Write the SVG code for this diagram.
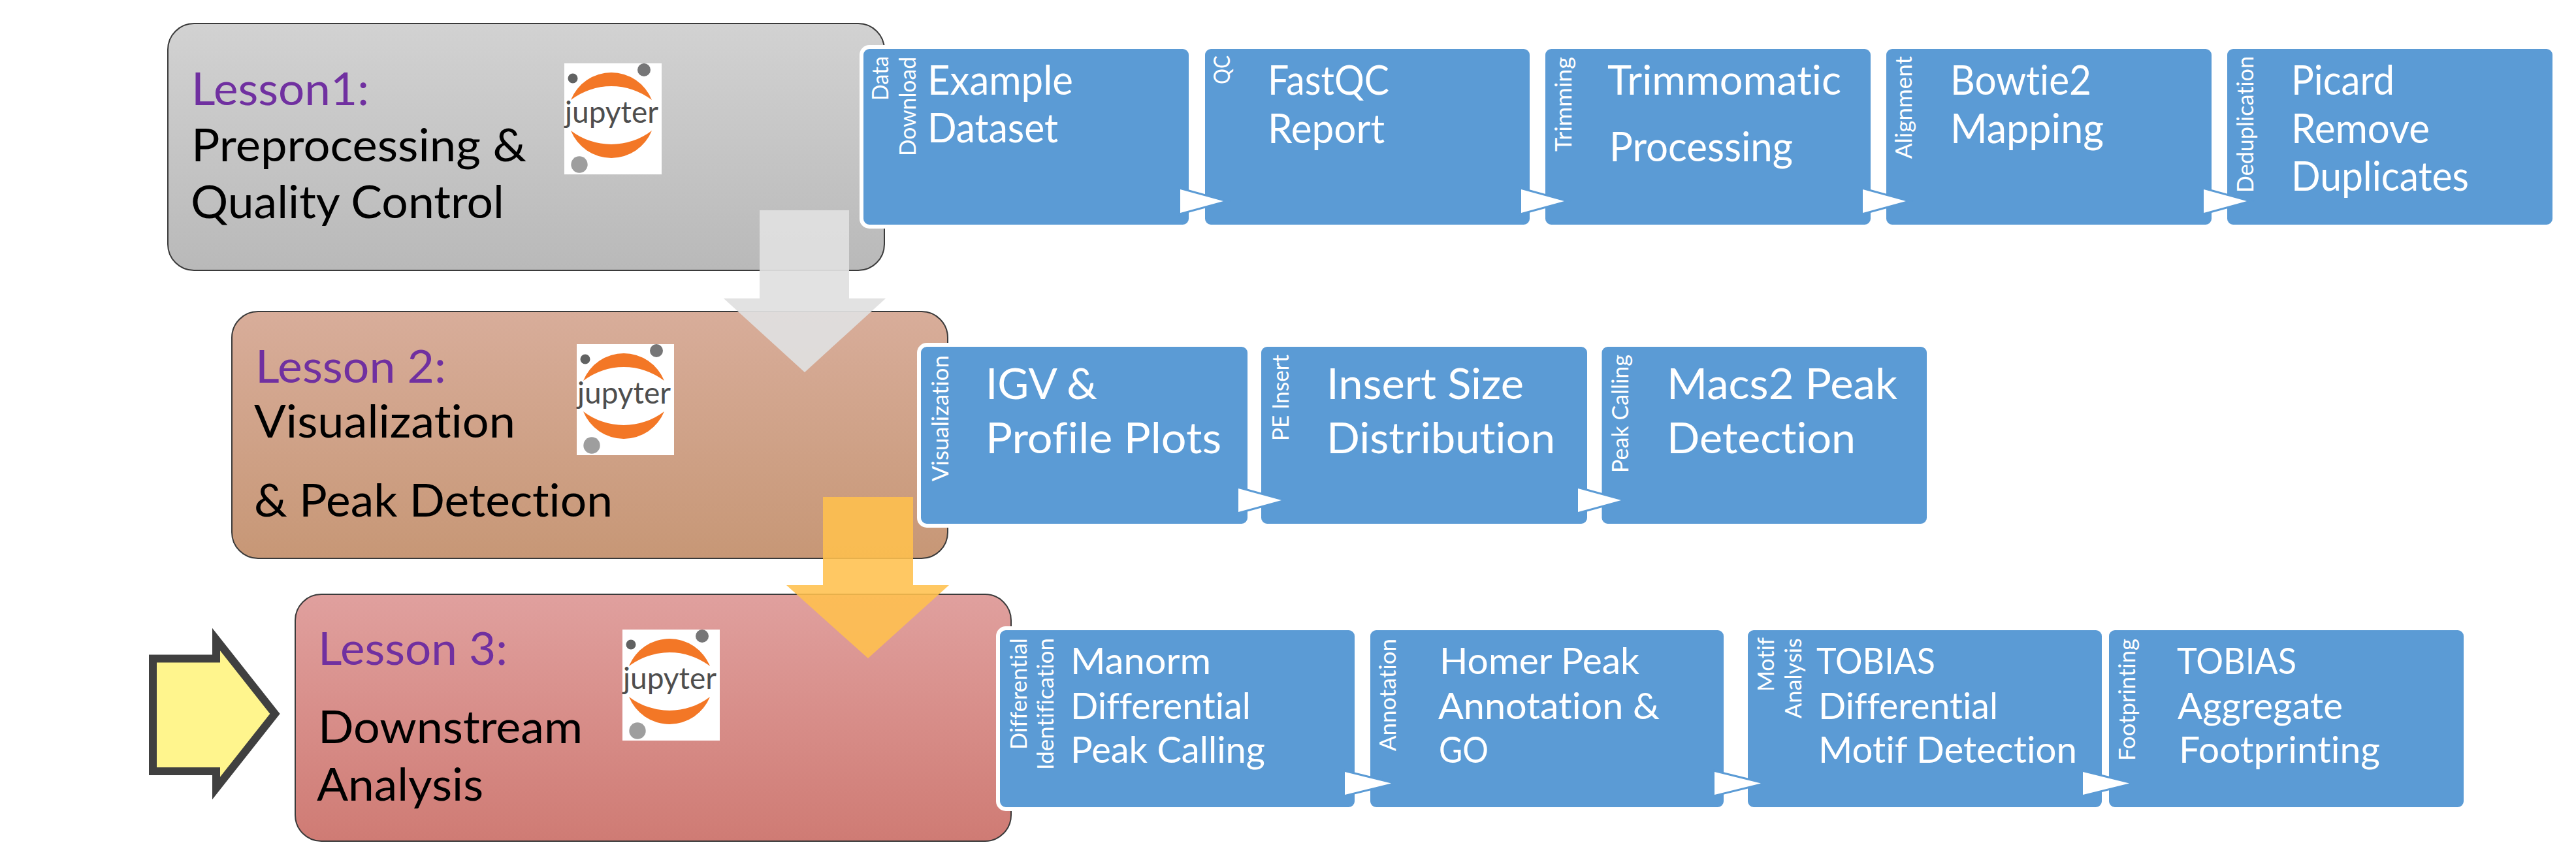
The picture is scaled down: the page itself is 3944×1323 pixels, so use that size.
<svg xmlns="http://www.w3.org/2000/svg" width="3944" height="1323" viewBox="0 0 3944 1323">
<defs>
<linearGradient id="g1" x1="0" y1="0" x2="0" y2="1"><stop offset="0" stop-color="#d2d2d2"/><stop offset="1" stop-color="#b9b9b9"/></linearGradient>
<linearGradient id="g2" x1="0" y1="0" x2="0" y2="1"><stop offset="0" stop-color="#d8ad9a"/><stop offset="1" stop-color="#c79776"/></linearGradient>
<linearGradient id="g3" x1="0" y1="0" x2="0" y2="1"><stop offset="0" stop-color="#e0a09e"/><stop offset="1" stop-color="#cf7b74"/></linearGradient>
<g id="logo">
<rect x="0" y="0" width="149" height="170" fill="#fff"/>
<circle cx="122" cy="10" r="10" fill="#767677"/>
<circle cx="13" cy="23" r="7.500" fill="#616262"/>
<circle cx="23" cy="155" r="12.700" fill="#9e9e9e"/>
<path d="M10 56A66.800 66.800 0 0 1 134 56A102 102 0 0 0 10 56Z" fill="#f37726"/>
<path d="M10 103A102 102 0 0 0 134 103A66.800 66.800 0 0 1 10 103Z" fill="#f37726"/>
<text x="1" y="91" class="jup" textLength="143" lengthAdjust="spacingAndGlyphs">jupyter</text>
</g>
<path id="tri" d="M0 0L66 18L0 36Z"/>
<path id="tri3" d="M0 0L71 17.500L0 35Z"/>
</defs>
<style>
text{font-family:"Lato","Open Sans","Liberation Sans",sans-serif;font-variant-ligatures:none}
.jup{font-size:47px;fill:#4e4e4e}
.les{font-size:70px;fill:#7030a0;transform:translateX(-3px)}
.sub{font-size:70px;fill:#000;transform:translateX(-3px)}
.lessonbox{stroke:#3a3a3a;stroke-width:2}
.blue{fill:#5b9bd5;stroke:#fff;stroke-width:6}
.t{fill:#fff;font-size:61px;transform:translateX(-4px)}
.t2{fill:#fff;font-size:66px;transform:translateX(-4px)}
.t3{fill:#fff;font-size:57px;transform:translateX(-4px)}
.s{fill:#fff;font-size:34px}
.tri{fill:#fff;stroke:#5b9bd5;stroke-width:6;paint-order:stroke}
</style>
<rect width="3944" height="1323" fill="#fff"/>

<g id="lesson1">
<rect class="lessonbox" x="257" y="36" width="1097" height="378" rx="40" fill="url(#g1)"/>
<text class="les" x="296" y="161" textLength="272" lengthAdjust="spacingAndGlyphs">Lesson1:</text>
<text class="sub" x="296" y="247" textLength="513" lengthAdjust="spacingAndGlyphs">Preprocessing &amp;</text>
<text class="sub" x="295" y="334" textLength="480" lengthAdjust="spacingAndGlyphs">Quality Control</text>
<use href="#logo" x="864" y="97"/>
</g>
<g id="lesson2">
<rect class="lessonbox" x="355" y="477" width="1096" height="378" rx="40" fill="url(#g2)"/>
<text class="les" x="394" y="586" textLength="292" lengthAdjust="spacingAndGlyphs">Lesson 2:</text>
<text class="sub" x="392" y="670" textLength="400" lengthAdjust="spacingAndGlyphs">Visualization</text>
<text class="sub" x="392" y="791" textLength="549" lengthAdjust="spacingAndGlyphs">&amp; Peak Detection</text>
<use href="#logo" x="883" y="527"/>
</g>
<g id="lesson3">
<rect class="lessonbox" x="452" y="910" width="1096" height="378" rx="40" fill="url(#g3)"/>
<text class="les" x="490" y="1018" textLength="290" lengthAdjust="spacingAndGlyphs">Lesson 3:</text>
<text class="sub" x="490" y="1138" textLength="405" lengthAdjust="spacingAndGlyphs">Downstream</text>
<text class="sub" x="488" y="1226" textLength="255" lengthAdjust="spacingAndGlyphs">Analysis</text>
<use href="#logo" x="953" y="964"/>
</g>

<g id="yellow-arrow"><path d="M234 1008.500H331V979L421 1093L331 1207V1181H234Z" fill="#fff58d" stroke="#404040" stroke-width="12"/></g>

<g id="row1">
<g id="n-data"><rect class="blue" x="1319" y="72" width="504" height="275" rx="12"/>
<text class="s" transform="translate(1360,154) rotate(-90)" textLength="68" lengthAdjust="spacingAndGlyphs">Data</text><text class="s" transform="translate(1402,239) rotate(-90)" textLength="152" lengthAdjust="spacingAndGlyphs">Download</text>
<text class="t" x="1424" y="145" textLength="223" lengthAdjust="spacingAndGlyphs">Example</text><text class="t" x="1424" y="218" textLength="200" lengthAdjust="spacingAndGlyphs">Dataset</text></g>
<g id="n-qc"><rect class="blue" x="1842" y="72" width="503" height="275" rx="12"/>
<text class="s" transform="translate(1883,129) rotate(-90)" textLength="44" lengthAdjust="spacingAndGlyphs">QC</text>
<text class="t" x="1945" y="145" textLength="186" lengthAdjust="spacingAndGlyphs">FastQC</text><text class="t" x="1945" y="219" textLength="179" lengthAdjust="spacingAndGlyphs">Report</text></g>
<g id="n-trim"><rect class="blue" x="2363" y="72" width="504" height="275" rx="12"/>
<text class="s" transform="translate(2406,232) rotate(-90)" textLength="145" lengthAdjust="spacingAndGlyphs">Trimming</text>
<text class="t" x="2465" y="145" textLength="358" lengthAdjust="spacingAndGlyphs">Trimmomatic</text><text class="t" x="2468" y="247" textLength="281" lengthAdjust="spacingAndGlyphs">Processing</text></g>
<g id="n-align"><rect class="blue" x="2885" y="72" width="504" height="275" rx="12"/>
<text class="s" transform="translate(2927,243) rotate(-90)" textLength="157" lengthAdjust="spacingAndGlyphs">Alignment</text>
<text class="t" x="2990" y="145" textLength="216" lengthAdjust="spacingAndGlyphs">Bowtie2</text><text class="t" x="2990" y="219" textLength="235" lengthAdjust="spacingAndGlyphs">Mapping</text></g>
<g id="n-dedup"><rect class="blue" x="3407" y="72" width="504" height="275" rx="12"/>
<text class="s" transform="translate(3450,295) rotate(-90)" textLength="209" lengthAdjust="spacingAndGlyphs">Deduplication</text>
<text class="t" x="3512" y="145" textLength="158" lengthAdjust="spacingAndGlyphs">Picard</text><text class="t" x="3512" y="219" textLength="212" lengthAdjust="spacingAndGlyphs">Remove</text><text class="t" x="3512" y="292" textLength="272" lengthAdjust="spacingAndGlyphs">Duplicates</text></g>
</g>
<g id="row2">
<g id="n-vis"><rect class="blue" x="1407" y="528" width="506" height="277" rx="12"/>
<text class="s" transform="translate(1452,737) rotate(-90)" textLength="193" lengthAdjust="spacingAndGlyphs">Visualization</text>
<text class="t2" x="1513" y="611" textLength="171" lengthAdjust="spacingAndGlyphs">IGV &amp;</text><text class="t2" x="1513" y="694" textLength="361" lengthAdjust="spacingAndGlyphs">Profile Plots</text></g>
<g id="n-pe"><rect class="blue" x="1928" y="528" width="505" height="277" rx="12"/>
<text class="s" transform="translate(1973,675) rotate(-90)" textLength="132" lengthAdjust="spacingAndGlyphs">PE Insert</text>
<text class="t2" x="2035" y="611" textLength="302" lengthAdjust="spacingAndGlyphs">Insert Size</text><text class="t2" x="2035" y="694" textLength="350" lengthAdjust="spacingAndGlyphs">Distribution</text></g>
<g id="n-peak"><rect class="blue" x="2449.500" y="528" width="503.500" height="277" rx="12"/>
<text class="s" transform="translate(2493,724) rotate(-90)" textLength="181" lengthAdjust="spacingAndGlyphs">Peak Calling</text>
<text class="t2" x="2556" y="611" textLength="353" lengthAdjust="spacingAndGlyphs">Macs2 Peak</text><text class="t2" x="2556" y="694" textLength="289" lengthAdjust="spacingAndGlyphs">Detection</text></g>
</g>
<g id="row3">
<g id="n-diff"><rect class="blue" x="1528" y="962" width="549" height="277" rx="12"/>
<text class="s" transform="translate(1572,1148) rotate(-90)" textLength="171" lengthAdjust="spacingAndGlyphs">Differential</text><text class="s" transform="translate(1613,1179) rotate(-90)" textLength="202" lengthAdjust="spacingAndGlyphs">Identification</text>
<text class="t3" x="1643" y="1032" textLength="215" lengthAdjust="spacingAndGlyphs">Manorm</text><text class="t3" x="1643" y="1101" textLength="276" lengthAdjust="spacingAndGlyphs">Differential</text><text class="t3" x="1643" y="1168" textLength="298" lengthAdjust="spacingAndGlyphs">Peak Calling</text></g>
<g id="n-anno"><rect class="blue" x="2095" y="962" width="547" height="277" rx="12"/>
<text class="s" transform="translate(2137,1150) rotate(-90)" textLength="172" lengthAdjust="spacingAndGlyphs">Annotation</text>
<text class="t3" x="2208" y="1032" textLength="306" lengthAdjust="spacingAndGlyphs">Homer Peak</text><text class="t3" x="2206" y="1101" textLength="339" lengthAdjust="spacingAndGlyphs">Annotation &amp;</text><text class="t3" x="2207" y="1168" textLength="76" lengthAdjust="spacingAndGlyphs">GO</text></g>
<g id="n-motif"><rect class="blue" x="2673" y="962" width="548" height="277" rx="12"/>
<text class="s" transform="translate(2716,1059) rotate(-90)" textLength="83" lengthAdjust="spacingAndGlyphs">Motif</text><text class="s" transform="translate(2758,1100) rotate(-90)" textLength="123" lengthAdjust="spacingAndGlyphs">Analysis</text>
<text class="t3" x="2785" y="1032" textLength="182" lengthAdjust="spacingAndGlyphs">TOBIAS</text><text class="t3" x="2788" y="1101" textLength="275" lengthAdjust="spacingAndGlyphs">Differential</text><text class="t3" x="2788" y="1168" textLength="396" lengthAdjust="spacingAndGlyphs">Motif Detection</text></g>
<g id="n-foot"><rect class="blue" x="3226" y="962" width="549" height="277" rx="12"/>
<text class="s" transform="translate(3269,1165) rotate(-90)" textLength="187" lengthAdjust="spacingAndGlyphs">Footprinting</text>
<text class="t3" x="3337" y="1032" textLength="183" lengthAdjust="spacingAndGlyphs">TOBIAS</text><text class="t3" x="3338" y="1101" textLength="253" lengthAdjust="spacingAndGlyphs">Aggregate</text><text class="t3" x="3340" y="1168" textLength="308" lengthAdjust="spacingAndGlyphs">Footprinting</text></g>
</g>

<g id="connectors">
<g id="arrow-gray"><path d="M1163 322H1300V457H1356L1232 570L1108 457H1163Z" fill="#e0e0e0" fill-opacity=".93"/></g>
<g id="arrow-orange"><path d="M1260 761H1398V896H1453L1329 1008L1204 896H1260Z" fill="#ffc04d" fill-opacity=".88"/></g>
<use class="tri" href="#tri" x="1807" y="290"/>
<use class="tri" href="#tri" x="2329" y="290"/>
<use class="tri" href="#tri" x="2852" y="290"/>
<use class="tri" href="#tri" x="3374" y="290"/>
<use class="tri" href="#tri" x="1896" y="748"/>
<use class="tri" href="#tri" x="2416" y="748"/>
<use class="tri" href="#tri3" x="2059" y="1182"/>
<use class="tri" href="#tri3" x="2625" y="1182"/>
<use class="tri" href="#tri3" x="3189" y="1182"/>
</g>
</svg>
